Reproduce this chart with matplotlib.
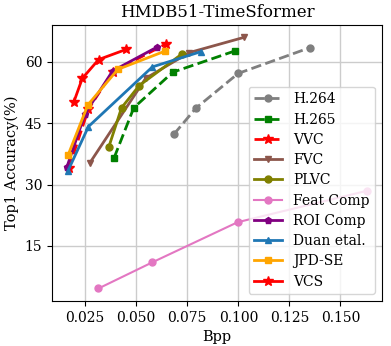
import matplotlib.pyplot as plt

plt.rcParams['font.family'] = 'DejaVu Serif'

# Data
h264_x = [0.0684, 0.0792, 0.0999, 0.1350]
h264_y = [42.3, 48.7, 57.2, 63.5]
h265_x = [0.0392, 0.0488, 0.0679, 0.0983]
h265_y = [36.6, 48.8, 57.5, 62.7]
vvc_x = [0.0170, 0.0265, 0.0385, 0.0645]
vvc_y = [34.0, 48.4, 57.6, 64.4]
fvc_x = [0.0274, 0.0546, 0.0760, 0.1026]
fvc_y = [35.4, 56.0, 62.3, 66.0]
plvc_x = [0.0365, 0.0428, 0.0514, 0.0722]
plvc_y = [39.1, 48.8, 54.2, 61.9]
feat_x = [0.0315, 0.0579, 0.0996, 0.1630]
feat_y = [4.6, 11.0, 20.8, 28.5]
roi_x = [0.0161, 0.0250, 0.0384, 0.0600]
roi_y = [34.4, 47.4, 57.8, 63.6]
duan_x = [0.0166, 0.0266, 0.0579, 0.0815]
duan_y = [33.4, 44.2, 58.8, 62.5]
jpd_x = [0.0166, 0.0263, 0.0410, 0.0643]
jpd_y = [37.2, 49.5, 58.2, 62.7]
vcs_x = [0.0195, 0.0236, 0.0316, 0.0452]
vcs_y = [50.3, 56.0, 60.6, 63.1]

fig, ax = plt.subplots(figsize=(3.91, 3.46), dpi=100)

ax.plot(h264_x, h264_y, color='#7f7f7f', linestyle='--', marker='o', lw=2, ms=5, label='H.264')
ax.plot(h265_x, h265_y, color='green', linestyle='--', marker='s', lw=2, ms=5, label='H.265')
ax.plot(vvc_x, vvc_y, color='red', linestyle='--', marker='*', lw=2, ms=7, label='VVC')
ax.plot(fvc_x, fvc_y, color='#8c564b', linestyle='-', marker='v', lw=2, ms=5, label='FVC')
ax.plot(plvc_x, plvc_y, color='#808000', linestyle='-', marker='o', lw=2, ms=5, label='PLVC')
ax.plot(feat_x, feat_y, color='#e377c2', linestyle='-', marker='o', lw=1.5, ms=5, label='Feat Comp')
ax.plot(roi_x, roi_y, color='purple', linestyle='-', marker='p', lw=2, ms=5, label='ROI Comp')
ax.plot(duan_x, duan_y, color='#1f77b4', linestyle='-', marker='^', lw=2, ms=5, label='Duan etal.')
ax.plot(jpd_x, jpd_y, color='orange', linestyle='-', marker='s', lw=2, ms=4, label='JPD-SE')
ax.plot(vcs_x, vcs_y, color='red', linestyle='-', marker='*', lw=2, ms=7, label='VCS')

ax.set_title('HMDB51-TimeSformer', fontsize=12)
ax.set_xlabel('Bpp', fontsize=10.5)
ax.set_ylabel('Top1 Accuracy(%)', fontsize=10.5)
ax.set_xticks([0.025, 0.050, 0.075, 0.100, 0.125, 0.150])
ax.set_yticks([15, 30, 45, 60])
ax.tick_params(labelsize=10)
ax.grid(True, color='#cccccc', linewidth=1)
ax.set_axisbelow(True)
ax.legend(loc='lower right', fontsize=10, handlelength=2.0, labelspacing=0.45)

fig.subplots_adjust(left=0.133, right=0.977, top=0.928, bottom=0.13)
plt.savefig('out.png')
